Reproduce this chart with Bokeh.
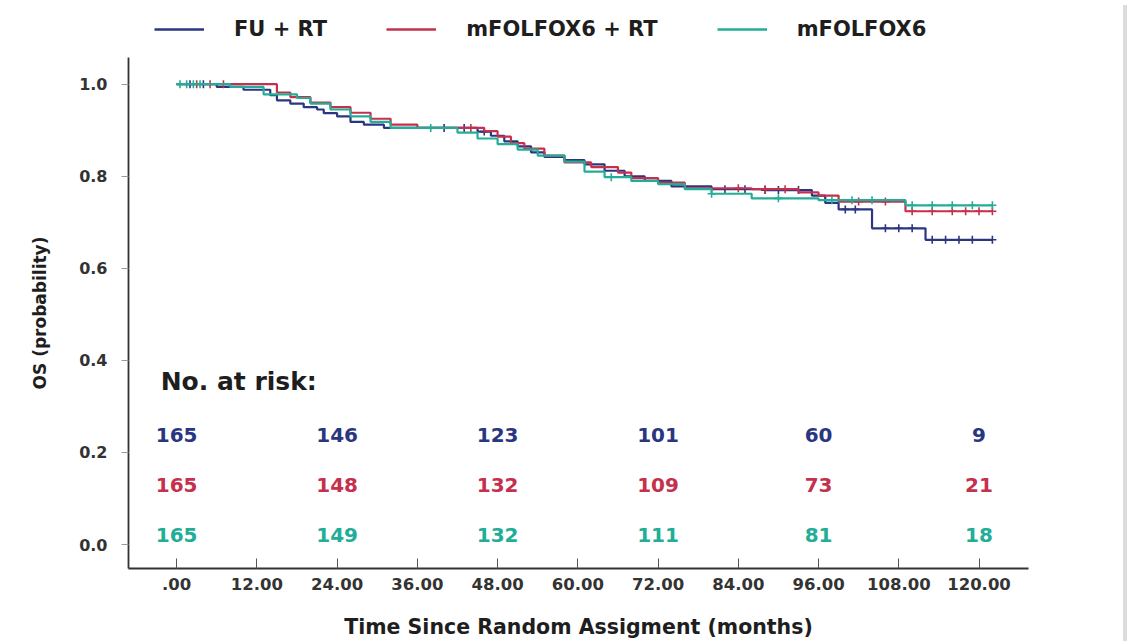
import numpy as np
from bokeh.plotting import figure
from bokeh.models import (ColumnDataSource, Legend, LegendItem, FixedTicker,
                          NumeralTickFormatter, Range1d, Div)
from bokeh.layouts import column, row
from bokeh.core.properties import value
from bokeh.embed import file_html
from bokeh.resources import INLINE

# ---------------- data ----------------
series_names = ["FU + RT", "mFOLFOX6 + RT", "mFOLFOX6"]
series_colors = ["#2a3680", "#c5304c", "#22ad97"]

fu_rt_time = [0, 6, 10, 14, 15, 17, 19, 21, 22, 24, 26, 28, 31, 45, 47, 49, 51, 53, 55, 58,
              61, 64, 67, 70, 74, 80, 88, 95, 97, 99, 104, 112, 122]
fu_rt_surv = [1.0, 0.994, 0.988, 0.976, 0.965, 0.958, 0.95, 0.945, 0.937, 0.93, 0.918, 0.912,
              0.905, 0.897, 0.888, 0.876, 0.865, 0.852, 0.842, 0.835, 0.826, 0.812, 0.8, 0.79,
              0.778, 0.772, 0.77, 0.758, 0.742, 0.728, 0.687, 0.662, 0.662]
fu_rt_cens = [2, 4, 40, 43, 46, 82, 85, 88, 90, 93, 100, 101.5, 106, 108, 110, 113, 115, 117, 119, 122]

mf_rt_time = [0, 15, 17, 20, 23, 26, 29, 32, 36, 46, 48, 50, 52, 55, 58, 62, 66, 68, 72, 76,
              86, 93, 96, 99, 109, 122]
mf_rt_surv = [1.0, 0.982, 0.972, 0.96, 0.95, 0.938, 0.925, 0.912, 0.905, 0.898, 0.886, 0.872,
              0.86, 0.845, 0.83, 0.82, 0.808, 0.796, 0.786, 0.774, 0.772, 0.765, 0.758, 0.745,
              0.724, 0.724]
mf_rt_cens = [3, 5, 7, 44, 84, 88, 91, 102, 106, 110, 113, 116, 118, 120, 122]

mf_time = [0, 8, 13, 18, 20, 23, 26, 29, 32, 42, 45, 48, 51, 54, 58, 61, 64, 68, 72, 76, 80,
           86, 96, 109, 122]
mf_surv = [1.0, 0.994, 0.978, 0.97, 0.958, 0.945, 0.93, 0.918, 0.905, 0.895, 0.882, 0.87,
           0.858, 0.845, 0.832, 0.81, 0.798, 0.79, 0.783, 0.772, 0.762, 0.752, 0.748, 0.737,
           0.737]
mf_cens = [0.5, 1.5, 2.5, 3.5, 38, 65, 80, 90, 98, 101, 104, 110, 113, 116, 119, 122]

risk_times = [0, 24, 48, 72, 96, 120]
risk_fu_rt = [165, 146, 123, 101, 60, 9]
risk_mf_rt = [165, 148, 132, 109, 73, 21]
risk_mf = [165, 149, 132, 111, 81, 18]
risk_rows_y = [0.239, 0.13, 0.02]
risk_header = "No. at risk:"
risk_header_y = 0.355

x_ticks = [0, 12, 24, 36, 48, 60, 72, 84, 96, 108, 120]
x_tick_labels = [".00", "12.00", "24.00", "36.00", "48.00", "60.00", "72.00", "84.00",
                 "96.00", "108.00", "120.00"]
y_ticks = [0.0, 0.2, 0.4, 0.6, 0.8, 1.0]

x_title = "Time Since Random Assigment (months)"
y_title = "OS (probability)"

FONT = "DejaVu Sans"
W = 1118

series = [
    (fu_rt_time, fu_rt_surv, fu_rt_cens),
    (mf_rt_time, mf_rt_surv, mf_rt_cens),
    (mf_time, mf_surv, mf_cens),
]

# ---------------- legend strip (its data lies outside its view; only the legend shows) ----------------
leg_fig = figure(width=W, height=45, output_backend="svg", toolbar_location=None,
                 x_range=Range1d(0, 1), y_range=Range1d(5, 6),
                 x_axis_location=None, y_axis_location=None,
                 min_border_left=0, min_border_right=0, min_border_top=0, min_border_bottom=0)
leg_fig.outline_line_color = None
leg_fig.xgrid.visible = False
leg_fig.ygrid.visible = False

items = []
for (t, s, c), name, col in zip(series, series_names, series_colors):
    r = leg_fig.step(t, s, mode="after", line_color=col, line_width=2.5)
    items.append(LegendItem(label=name, renderers=[r]))
legend = Legend(items=items, orientation="horizontal", location=(26, 4),
                glyph_width=50, glyph_height=16, label_standoff=30, spacing=59,
                label_text_font=FONT, label_text_font_style="bold",
                label_text_font_size="21px", label_text_color="#1e1e1e",
                border_line_color=None, background_fill_alpha=0, padding=4, margin=0)
leg_fig.add_layout(legend)

# ---------------- main figure ----------------
p = figure(width=W, height=596, output_backend="svg", toolbar_location=None,
           x_range=Range1d(-7.2, 127.4), y_range=Range1d(-0.052, 1.058),
           min_border_left=128, min_border_right=90, min_border_top=12, min_border_bottom=73)
p.outline_line_color = None
p.xgrid.visible = False
p.ygrid.visible = False

for (t, s, c), col in zip(series, series_colors):
    p.step(t, s, mode="after", line_color=col, line_width=2.2)
    t_arr = np.array(t, dtype=float)
    s_arr = np.array(s, dtype=float)
    idx = np.searchsorted(t_arr, np.array(c, dtype=float), side="right") - 1
    p.scatter(c, s_arr[idx], marker="cross", size=8, line_color=col, line_width=1.6)

# number at risk
p.text(x=[risk_times[0]], y=[risk_header_y], text=[risk_header], text_font=value(FONT),
       text_font_style="bold", text_font_size="25px", text_color="#1e1e1e",
       text_align="left", text_baseline="middle", x_offset=-16)
for vals, yy, col in zip([risk_fu_rt, risk_mf_rt, risk_mf], risk_rows_y, series_colors):
    src = ColumnDataSource(dict(x=risk_times, y=[yy] * len(risk_times), t=[str(v) for v in vals]))
    p.text(x="x", y="y", text="t", source=src, text_font=value(FONT), text_font_style="bold",
           text_font_size="20px", text_color=col, text_align="center", text_baseline="middle")

# axes
xa = p.xaxis[0]
xa.ticker = FixedTicker(ticks=x_ticks)
xa.major_label_overrides = {k: v for k, v in zip(x_ticks, x_tick_labels)}
xa.minor_tick_line_color = None
xa.major_tick_in = 10
xa.major_tick_out = 0
xa.major_tick_line_color = "#555555"
xa.axis_line_color = "#333333"
xa.axis_line_width = 2.2
xa.major_label_text_font = FONT
xa.major_label_text_font_style = "bold"
xa.major_label_text_font_size = "16.5px"
xa.major_label_text_color = "#333333"
xa.major_label_standoff = 9
xa.axis_label = x_title
xa.axis_label_text_font = FONT
xa.axis_label_text_font_style = "bold"
xa.axis_label_text_font_size = "20.5px"
xa.axis_label_text_color = "#1e1e1e"
xa.axis_label_standoff = 22

ya = p.yaxis[0]
ya.ticker = FixedTicker(ticks=y_ticks)
ya.formatter = NumeralTickFormatter(format="0.0")
ya.minor_tick_line_color = None
ya.major_tick_in = 0
ya.major_tick_out = 7
ya.major_tick_line_color = "#999999"
ya.axis_line_color = "#333333"
ya.axis_line_width = 1.8
ya.major_label_text_font = FONT
ya.major_label_text_font_style = "bold"
ya.major_label_text_font_size = "16px"
ya.major_label_text_color = "#333333"
ya.major_label_standoff = 14
ya.axis_label = y_title
ya.axis_label_text_font = FONT
ya.axis_label_text_font_style = "bold"
ya.axis_label_text_font_size = "17px"
ya.axis_label_text_color = "#1e1e1e"
ya.axis_label_standoff = 26

band = Div(width=9, height=641, styles={"background-color": "#dcdcdc"})
layout = row(column(leg_fig, p, spacing=0), band, spacing=0)

open("out.html", "w").write(file_html(layout, INLINE))
